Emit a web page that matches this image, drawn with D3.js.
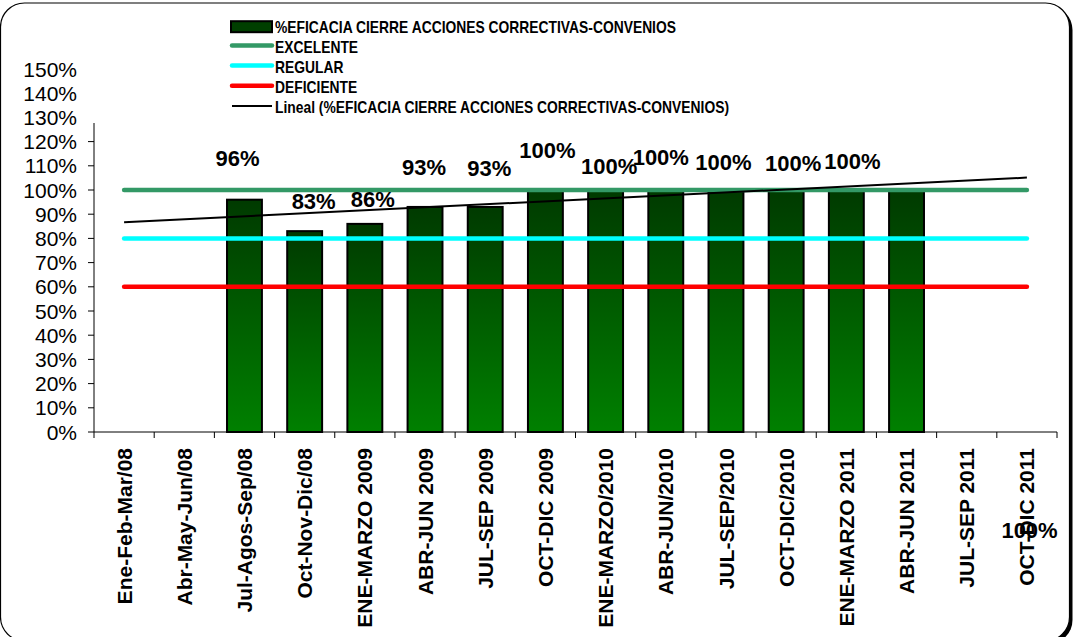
<!DOCTYPE html>
<html>
<head>
<meta charset="utf-8">
<script src="https://cdn.jsdelivr.net/npm/d3@7"></script>
<style>
  html, body { margin: 0; padding: 0; background: #fff; }
  svg { display: block; }
  text { font-family: "Liberation Sans", Arial, sans-serif; }
</style>
</head>
<body>
<svg id="chart" width="1075" height="637"></svg>
<script>
// ---------- data ----------
const categories = [
  "Ene-Feb-Mar/08", "Abr-May-Jun/08", "Jul-Agos-Sep/08", "Oct-Nov-Dic/08",
  "ENE-MARZO 2009", "ABR-JUN 2009", "JUL-SEP 2009", "OCT-DIC 2009",
  "ENE-MARZO/2010", "ABR-JUN/2010", "JUL-SEP/2010", "OCT-DIC/2010",
  "ENE-MARZO 2011", "ABR-JUN 2011", "JUL-SEP 2011", "OCT-DIC 2011"
];
const eficacia = [null, null, 0.96, 0.83, 0.86, 0.93, 0.93, 1.00, 1.00, 1.00, 1.00, 1.00, 1.00, 1.00, null, null];
const excelente = 1.00;
const regular = 0.80;
const deficiente = 0.60;
const yTickLabels = [0, 0.1, 0.2, 0.3, 0.4, 0.5, 0.6, 0.7, 0.8, 0.9, 1.0, 1.1, 1.2, 1.3, 1.4, 1.5];
const yTickMarks = [0, 0.1, 0.2, 0.3, 0.4, 0.5, 0.6, 0.7, 0.8, 0.9, 1.0, 1.1, 1.2];
const seriesNames = [
  "%EFICACIA CIERRE ACCIONES CORRECTIVAS-CONVENIOS",
  "EXCELENTE", "REGULAR", "DEFICIENTE",
  "Lineal (%EFICACIA CIERRE ACCIONES CORRECTIVAS-CONVENIOS)"
];
// manual data-label nudges (pixels) relative to bar top centre, as placed in the original
const labelNudges = [null, null, [-7, -42], [9, -30], [8, -25], [-1, -40], [4, -39], [2, -40],
  [3.5, -24], [-5, -33], [-2.5, -28], [7, -27], [6, -29], [123, 340], null, null];

// ---------- layout ----------
const svg = d3.select("#chart");
const plot = { left: 94, right: 1057, top: 123, bottom: 432 };

// frame with shadow
svg.append("rect").attr("x", 4).attr("y", 6).attr("width", 1068.5).attr("height", 638)
  .attr("rx", 24).attr("fill", "#000");
svg.append("rect").attr("x", 0.5).attr("y", 3).attr("width", 1069).attr("height", 638)
  .attr("rx", 24).attr("fill", "#fff").attr("stroke", "#000").attr("stroke-width", 1.2);

const x = d3.scaleBand().domain(categories).range([plot.left, plot.right]).paddingInner(0.42).paddingOuter(0.21);
const xc = d => x(d) + x.bandwidth() / 2;
const y = d3.scaleLinear().domain([0, 1]).range([plot.bottom, plot.bottom - 242]);

// gradient
const defs = svg.append("defs");
const grad = defs.append("linearGradient").attr("id", "barGrad").attr("x1", 0).attr("y1", 0).attr("x2", 0).attr("y2", 1);
grad.append("stop").attr("offset", "0%").attr("stop-color", "#003a00");
grad.append("stop").attr("offset", "100%").attr("stop-color", "#008000");

// y axis
const yAxisG = svg.append("g");
yAxisG.append("line").attr("x1", plot.left).attr("x2", plot.left)
  .attr("y1", plot.top).attr("y2", plot.bottom).attr("stroke", "#000").attr("stroke-width", 1);
yAxisG.selectAll("line.tick").data(yTickMarks).join("line").attr("class", "tick")
  .attr("x1", plot.left - 6).attr("x2", plot.left)
  .attr("y1", d => y(d)).attr("y2", d => y(d)).attr("stroke", "#000").attr("stroke-width", 1);
yAxisG.selectAll("text").data(yTickLabels).join("text")
  .attr("x", 77).attr("y", d => y(d)).attr("dy", "0.36em")
  .attr("text-anchor", "end").attr("font-size", 21).attr("fill", "#000")
  .text(d => d3.format(".0%")(d));

// x axis
const xAxisG = svg.append("g");
xAxisG.append("line").attr("x1", plot.left).attr("x2", plot.right)
  .attr("y1", plot.bottom).attr("y2", plot.bottom).attr("stroke", "#000").attr("stroke-width", 1);
const boundaries = d3.range(categories.length + 1).map(i => plot.left + i * (plot.right - plot.left) / categories.length);
xAxisG.selectAll("line.tick").data(boundaries).join("line").attr("class", "tick")
  .attr("x1", d => d).attr("x2", d => d).attr("y1", plot.bottom).attr("y2", plot.bottom + 6)
  .attr("stroke", "#000").attr("stroke-width", 1);
xAxisG.selectAll("text").data(categories).join("text")
  .attr("transform", d => `translate(${xc(d)},448) rotate(-90)`)
  .attr("text-anchor", "end").attr("dy", "0.36em")
  .attr("font-size", 21).attr("font-weight", "bold").attr("fill", "#000")
  .text(d => d);

// bars
const barData = categories.map((c, i) => ({ c, v: eficacia[i], i })).filter(d => d.v != null);
svg.append("g").selectAll("rect").data(barData).join("rect")
  .attr("x", d => x(d.c)).attr("width", x.bandwidth())
  .attr("y", d => y(d.v)).attr("height", d => y(0) - y(d.v))
  .attr("fill", "url(#barGrad)").attr("stroke", "#000").attr("stroke-width", 2);

// reference lines
const first = xc(categories[0]), last = xc(categories[categories.length - 1]);
const refs = [[excelente, "#339966"], [regular, "#00ffff"], [deficiente, "#ff0000"]];
svg.append("g").selectAll("line").data(refs).join("line")
  .attr("x1", first).attr("x2", last).attr("y1", d => y(d[0])).attr("y2", d => y(d[0]))
  .attr("stroke", d => d[1]).attr("stroke-width", 4.5).attr("stroke-linecap", "round");

// linear trend (least squares on category index 1..n)
const pts = eficacia.map((v, i) => [i + 1, v]).filter(p => p[1] != null);
const mx = d3.mean(pts, p => p[0]), my = d3.mean(pts, p => p[1]);
const slope = d3.sum(pts, p => (p[0] - mx) * (p[1] - my)) / d3.sum(pts, p => (p[0] - mx) ** 2);
const icpt = my - slope * mx;
const trendAt = k => icpt + slope * k;
svg.append("line")
  .attr("x1", first).attr("y1", y(trendAt(1)))
  .attr("x2", last).attr("y2", y(trendAt(categories.length)))
  .attr("stroke", "#000").attr("stroke-width", 2);

// data labels
svg.append("g").selectAll("text").data(barData).join("text")
  .attr("x", d => xc(d.c) + labelNudges[d.i][0])
  .attr("y", d => y(d.v) + labelNudges[d.i][1]).attr("dy", "0.36em")
  .attr("text-anchor", "middle").attr("font-size", 22).attr("font-weight", "bold").attr("fill", "#000")
  .text(d => d3.format(".0%")(d.v));

// legend
const legend = svg.append("g");
const legX = 231, legSymW = 41, legTextX = 275, legRow0 = 26.7, legRowH = 20.2;
const legStyles = [
  { type: "rect" },
  { type: "line", color: "#339966", w: 4.5 },
  { type: "line", color: "#00ffff", w: 4.5 },
  { type: "line", color: "#ff0000", w: 4.5 },
  { type: "line", color: "#000", w: 2 }
];
seriesNames.forEach((name, i) => {
  const cy = legRow0 + i * legRowH;
  const st = legStyles[i];
  if (st.type === "rect") {
    legend.append("rect").attr("x", legX).attr("y", cy - 5.5).attr("width", legSymW).attr("height", 11)
      .attr("fill", "#003f00").attr("stroke", "#000").attr("stroke-width", 2);
  } else {
    legend.append("line").attr("x1", legX + 1).attr("x2", legX + legSymW)
      .attr("y1", cy - 1.5).attr("y2", cy - 1.5)
      .attr("stroke", st.color).attr("stroke-width", st.w).attr("stroke-linecap", st.w > 3 ? "round" : "butt");
  }
  legend.append("text")
    .attr("transform", `translate(${legTextX},${cy}) scale(0.84,1)`)
    .attr("dy", "0.36em").attr("font-size", 16.5).attr("font-weight", "bold").attr("fill", "#000")
    .text(name);
});
</script>
</body>
</html>
